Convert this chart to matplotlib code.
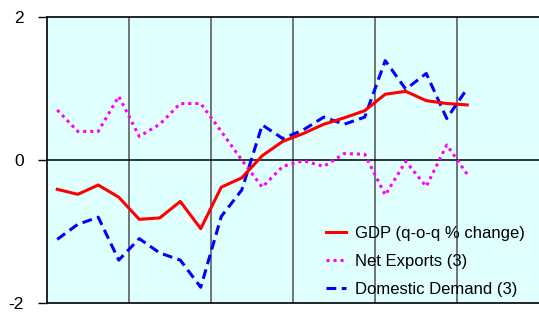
import numpy as np
import matplotlib.pyplot as plt

plt.rcParams['font.family'] = ['Liberation Sans', 'DejaVu Sans']

# quarterly series, 24 slots on the axis, 21 observed
gdp = [-0.41, -0.48, -0.35, -0.52, -0.83, -0.81, -0.58, -0.96, -0.38, -0.25, 0.06,
       0.26, 0.37, 0.50, 0.59, 0.69, 0.92, 0.96, 0.83, 0.79, 0.77]
net_exports = [0.70, 0.40, 0.40, 0.89, 0.33, 0.50, 0.79, 0.79, 0.40, 0.00, -0.38,
               -0.09, -0.01, -0.09, 0.09, 0.08, -0.49, -0.02, -0.37, 0.21, -0.20]
domestic = [-1.11, -0.90, -0.80, -1.40, -1.10, -1.30, -1.40, -1.78, -0.79, -0.42, 0.49,
            0.30, 0.42, 0.60, 0.50, 0.60, 1.39, 0.99, 1.21, 0.58, 1.00]
n_slots = 24
yticks = [-2, 0, 2]

x = np.arange(len(gdp))

fig = plt.figure(figsize=(5.39, 3.15), dpi=100)
ax = fig.add_axes([47/539, 12/315, 492/539, 286/315])
ax.set_facecolor('#E0FFFF')

for k in range(4, n_slots, 4):
    ax.axvline(k - 0.5, color='#505050', lw=1.1, zorder=1)
ax.axhline(0, color='black', lw=1.1, zorder=1)

ax.plot(x, gdp, color='#FF0000', lw=2.2, label='GDP (q-o-q % change)', zorder=3)
ax.plot(x, net_exports, color='#FF00FF', lw=2.2, ls=(0, (1, 1.3)), label='Net Exports (3)', zorder=2)
ax.plot(x, domestic, color='#0000FF', lw=2.2, ls=(0, (3.2, 1.8)), label='Domestic Demand (3)', zorder=2)

ax.set_xlim(-0.5, n_slots - 0.5)
ax.set_ylim(-2, 2)
ax.set_yticks(yticks)
ax.set_yticklabels([str(v) for v in yticks], fontsize=12.5)
ax.set_xticks([])
ax.tick_params(axis='y', length=6.5, width=1, pad=10)
for s in ['left', 'top', 'bottom']:
    ax.spines[s].set_color('black')
    ax.spines[s].set_linewidth(1.2)
ax.spines['right'].set_visible(False)

ax.legend(loc='lower right', bbox_to_anchor=(1.002, -0.032), frameon=False, fontsize=12,
          handlelength=1.2, handletextpad=0.55, labelspacing=0.78)

fig.savefig('out.png', dpi=100)
